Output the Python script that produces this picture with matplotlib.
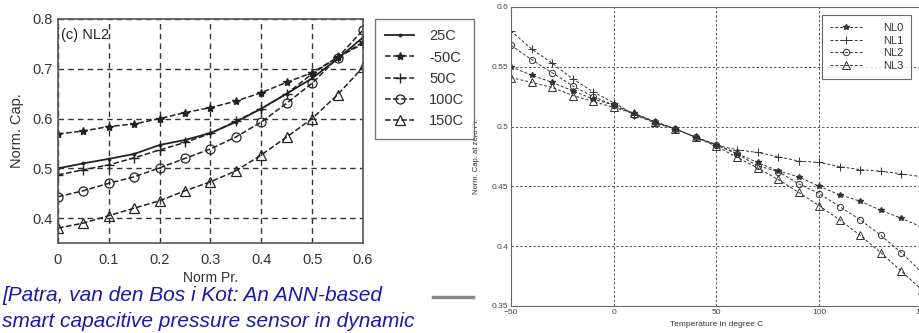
import matplotlib
matplotlib.use("Agg")
import matplotlib.pyplot as plt
from matplotlib.lines import Line2D

plt.rcParams['font.family'] = ['Liberation Sans', 'DejaVu Sans']

# ---- left panel data (Norm Pr. vs Norm. Cap.) ----
norm_pr = [0, 0.05, 0.1, 0.15, 0.2, 0.25, 0.3, 0.35, 0.4, 0.45, 0.5, 0.55, 0.6]
cap_25c = [0.500, 0.510, 0.519, 0.529, 0.547, 0.557, 0.571, 0.593, 0.620, 0.650, 0.681, 0.720, 0.763]
cap_m50c = [0.569, 0.575, 0.584, 0.589, 0.600, 0.612, 0.622, 0.635, 0.652, 0.673, 0.692, 0.723, 0.753]
cap_50c = [0.487, 0.497, 0.507, 0.521, 0.537, 0.552, 0.570, 0.595, 0.620, 0.650, 0.690, 0.723, 0.750]
cap_100c = [0.443, 0.455, 0.470, 0.483, 0.501, 0.520, 0.539, 0.563, 0.593, 0.631, 0.671, 0.722, 0.778]
cap_150c = [0.380, 0.390, 0.405, 0.420, 0.435, 0.455, 0.473, 0.495, 0.527, 0.563, 0.600, 0.648, 0.703]

# ---- right panel data (temperature vs cap at zero pressure) ----
temp = [-50, -40, -30, -20, -10, 0, 10, 20, 30, 40, 50, 60, 70, 80, 90, 100, 110, 120, 130, 140, 150]
nl0 = [0.550, 0.543, 0.537, 0.530, 0.523, 0.518, 0.511, 0.504, 0.498, 0.491, 0.485,
       0.4775, 0.470, 0.463, 0.458, 0.450, 0.443, 0.4376, 0.430, 0.4233, 0.416]
nl1 = [0.580, 0.565, 0.553, 0.540, 0.529, 0.520, 0.510, 0.503, 0.498, 0.491, 0.4844,
       0.4806, 0.4784, 0.4748, 0.4712, 0.470, 0.4665, 0.464, 0.4627, 0.4605, 0.458]
nl2 = [0.568, 0.556, 0.545, 0.534, 0.525, 0.518, 0.510, 0.504, 0.498, 0.491, 0.4846,
       0.477, 0.4673, 0.4624, 0.4522, 0.444, 0.433, 0.422, 0.409, 0.3945, 0.378]
nl3 = [0.541, 0.537, 0.5327, 0.526, 0.521, 0.516, 0.511, 0.504, 0.498, 0.491, 0.4835,
       0.4743, 0.4654, 0.4558, 0.445, 0.4338, 0.422, 0.409, 0.3945, 0.379, 0.3634]

fig = plt.figure(figsize=(9.2, 3.33), dpi=100)

# ================= left chart =================
ax1 = fig.add_axes([58/920, 1-243/333, 305/920, 224/333])
k = '#222222'
ax1.plot(norm_pr, cap_25c, '-', color=k, lw=1.3, marker='.', ms=3.5, label='25C')
ax1.plot(norm_pr, cap_m50c, '--', color=k, lw=1.1, marker='*', ms=6, label='-50C')
ax1.plot(norm_pr, cap_50c, '--', color=k, lw=1.1, marker='+', ms=7, mew=1.0, label='50C')
ax1.plot(norm_pr, cap_100c, '--', color=k, lw=1.1, marker='o', ms=6.5, mfc='none', mew=0.9, label='100C')
ax1.plot(norm_pr, cap_150c, '--', color=k, lw=1.1, marker='^', ms=7.5, mfc='none', mew=0.9, label='150C')
ax1.set_xlim(0, 0.6)
ax1.set_ylim(0.35, 0.8)
ax1.set_xticks([0, 0.1, 0.2, 0.3, 0.4, 0.5, 0.6])
ax1.set_xticklabels(['0', '0.1', '0.2', '0.3', '0.4', '0.5', '0.6'])
ax1.set_yticks([0.4, 0.5, 0.6, 0.7, 0.8])
ax1.grid(True, linestyle=(0, (4, 3)), color='#333333', lw=1.0)
ax1.tick_params(labelsize=10.5, labelcolor='#333333', length=0)
ax1.tick_params(axis='x', pad=7)
ax1.tick_params(axis='y', pad=4)
for s in ax1.spines.values():
    s.set_color('#555555')
    s.set_linewidth(1.2)
ax1.set_xlabel('Norm Pr.', fontsize=10, color='#333333', labelpad=3)
ax1.set_ylabel('Norm. Cap.', fontsize=10.5, color='#333333', labelpad=6)
ax1.text(0.01, 0.93, '(c) NL2', transform=ax1.transAxes, fontsize=10.5,
         color='#222222', va='center', ha='left')
leg1 = fig.legend(handles=ax1.get_lines(), loc='upper left',
                  bbox_to_anchor=(375/920, 1-19/333), borderaxespad=0,
                  fontsize=10.5, frameon=True, fancybox=False, edgecolor='#555555',
                  handlelength=2.0, labelspacing=0.5, borderpad=0.7, handletextpad=1.0)
leg1.get_frame().set_linewidth(1.0)
for t in leg1.get_texts():
    t.set_color('#333333')

# ================= right chart =================
ax2 = fig.add_axes([511/920, 1-306/333, 411/920, 299/333])
g = '#333333'
ax2.plot(temp, nl0, '--', color=g, lw=0.7, dashes=(3, 2), marker='*', ms=4, label='NL0')
ax2.plot(temp, nl1, '--', color=g, lw=0.7, dashes=(3, 2), marker='+', ms=6, mew=0.7, label='NL1')
ax2.plot(temp, nl2, '--', color=g, lw=0.7, dashes=(3, 2), marker='o', ms=4.5, mfc='none', mew=0.7, label='NL2')
ax2.plot(temp, nl3, '--', color=g, lw=0.7, dashes=(3, 2), marker='^', ms=5.5, mfc='none', mew=0.7, label='NL3')
ax2.set_xlim(-50, 150)
ax2.set_ylim(0.35, 0.6)
ax2.set_xticks([-50, 0, 50, 100, 150])
ax2.set_yticks([0.35, 0.4, 0.45, 0.5, 0.55, 0.6])
ax2.set_yticklabels(['0.35', '0.4', '0.45', '0.5', '0.55', '0.6'])
ax2.grid(True, linestyle=(0, (2.5, 2)), color='#555555', lw=0.7)
ax2.tick_params(labelsize=6, labelcolor='#444444', length=0, pad=2)
for s in ax2.spines.values():
    s.set_color('#666666')
    s.set_linewidth(0.8)
ax2.set_xlabel('Temperature in degree C', fontsize=6, color='#333333', labelpad=4)
ax2.set_ylabel('Norm. Cap. at zero Pr.', fontsize=5.5, color='#333333', labelpad=8)
leg2 = ax2.legend(loc='upper left', bbox_to_anchor=(311/411, 1-8/299), borderaxespad=0,
                  fontsize=8, frameon=True, fancybox=False, edgecolor='#444444',
                  handlelength=2.9, labelspacing=0.25, borderpad=0.7, handletextpad=1.9)
leg2.get_frame().set_linewidth(0.8)
for t in leg2.get_texts():
    t.set_color('#333333')

# ---- citation text and separator ----
fig.add_artist(Line2D([433/920, 473/920], [1-297/333, 1-297/333], color='#888888', lw=2.5))
fig.text(2/920, 1-301/333, '[Patra, van den Bos i Kot: An ANN-based', fontsize=15,
         style='italic', color='#1a1aa6', va='baseline', ha='left')
fig.text(2/920, 1-327/333, 'smart capacitive pressure sensor in dynamic', fontsize=15,
         style='italic', color='#1a1aa6', va='baseline', ha='left')

fig.savefig('out.png', dpi=100)
